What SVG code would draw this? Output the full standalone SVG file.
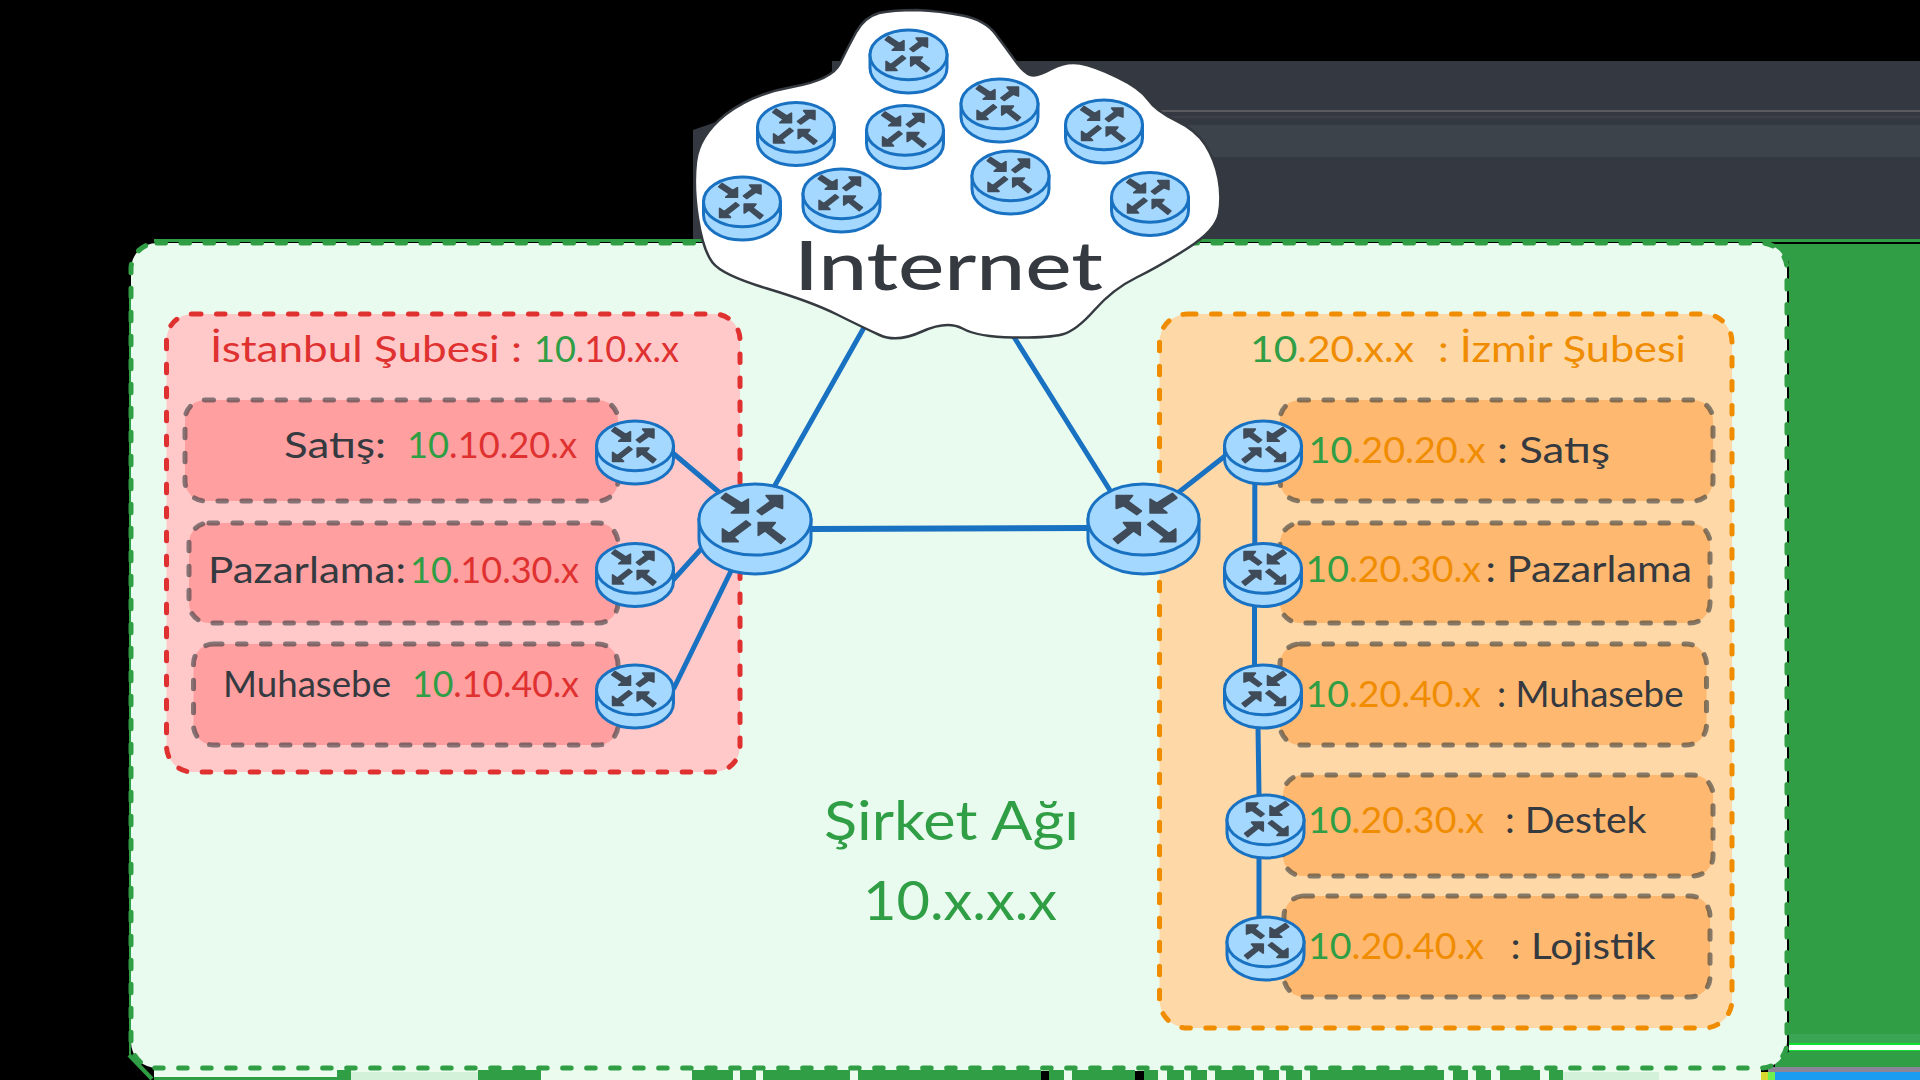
<svg xmlns="http://www.w3.org/2000/svg" width="1920" height="1080" viewBox="0 0 1920 1080">
<style>
text{font-family:"Lato","Open Sans","Noto Sans",sans-serif;font-size:36px}
.dk{fill:#343a40}.rd{fill:#e03131}.gn{fill:#2f9e44}.or{fill:#f08c00}
.box{stroke-width:5;stroke-dasharray:8.500 15.500;stroke-linecap:round}
.sub{stroke:#343a40;stroke-opacity:.6}
.subr{fill:#ff9f9f}.subo{fill:#ffb86f}
.link{stroke:#1971c2;stroke-width:5;fill:none;stroke-linecap:round}
.rb{fill:#a5d8ff;stroke:#1971c2;stroke-width:3;vector-effect:non-scaling-stroke}
.ra{fill:#3f4b58;stroke:#3f4b58;stroke-width:1.800;stroke-linejoin:round;vector-effect:non-scaling-stroke}
.big{font-size:54px}
</style>
<defs>
<g id="router">
<path class="rb" d="M-50,39.5V60.5A50,39.5 0 0 0 50,60.5V39.5Z"/>
<ellipse class="rb" cx="0" cy="39.5" rx="50" ry="39.5"/>
<polygon class="ra" points="-26,10.5 -12,21.5 -6,17 -6,32 -21,32 -16,27 -30,15.5"/>
<polygon class="ra" points="2,30 14,19 10,13 24.5,13 24.5,27 18,24 6,34"/>
<polygon class="ra" points="-8,41 -23,55 -29,50 -29,64 -15,64 -19,59 -4,45"/>
<polygon class="ra" points="27,61 14,49 18,43 3,43 3,57 9,52 23,66"/>
</g>
</defs>

<g id="background">
<rect width="1920" height="1080" fill="#000"/>
<polygon points="832,61 1920,61 1920,241 693,241 693,130 832,82" fill="#343840"/>
<rect x="832" y="125" width="1088" height="32" fill="#3c434a"/>
<rect x="832" y="110" width="1088" height="2" fill="#5a5a5f"/>
<rect x="832" y="116.500" width="1088" height="1" fill="#4a4458"/>
<polygon points="1770,244 1920,244 1920,1043 1789,1043 1789,262 1783,255" fill="#2f9e44"/>
<rect x="1789" y="1034" width="131" height="9" fill="#3aa655"/>
<rect x="1789" y="1043" width="131" height="2" fill="#10e030"/>
<rect x="1789" y="1045" width="131" height="5" fill="#fff"/>
<rect x="1789" y="1050" width="131" height="1.500" fill="#10e030"/>
<polygon points="1775,1067 1775,1060 1790,1051 1920,1051 1920,1067" fill="#2f9e44"/>
<rect x="1768" y="1067" width="152" height="5" fill="#8d8597"/>
<rect x="1775" y="1072" width="145" height="8" fill="#1c9cf0"/>
<rect x="1761" y="1072" width="7" height="8" fill="#d8d830"/>
<rect x="1768" y="1072" width="7" height="8" fill="#70f050"/>
</g>

<g id="sirket-agi">
<rect x="154" y="1068" width="1607" height="12" fill="#ebfbee"/>
<rect x="154" y="239" width="1766" height="3" fill="#2f9e44"/>
<rect x="131" y="243" width="1656" height="825" rx="26" fill="#e9faee" stroke="#2f9e44" class="box"/>
<rect x="129" y="290" width="2" height="765" fill="#2f9e44"/>
<path d="M0,1055H129L154,1080H0Z" fill="#000"/>
<path d="M129,1055L152,1079" stroke="#2f9e44" stroke-width="4" fill="none"/>
<path d="M154,1078.500H340" stroke="#2f9e44" stroke-width="3"/>
<g fill="#d3f0d8"><rect x="351" y="1072" width="127" height="8"/><rect x="1563" y="1072" width="96" height="8"/></g>
<g fill="#2f9e44">
<rect x="337" y="1070" width="14" height="10"/><rect x="478" y="1070" width="63" height="10"/><rect x="692" y="1070" width="41" height="10"/><rect x="740" y="1070" width="16" height="10"/><rect x="763" y="1070" width="87" height="10"/><rect x="858" y="1070" width="183" height="10"/><rect x="1049" y="1070" width="15" height="10"/><rect x="1072" y="1070" width="63" height="10"/><rect x="1144" y="1070" width="14" height="10"/><rect x="1167" y="1070" width="17" height="10"/><rect x="1191" y="1070" width="16" height="10"/><rect x="1215" y="1070" width="39" height="10"/><rect x="1263" y="1070" width="16" height="10"/><rect x="1286" y="1070" width="16" height="10"/><rect x="1310" y="1070" width="134" height="10"/><rect x="1453" y="1070" width="15" height="10"/><rect x="1476" y="1070" width="15" height="10"/><rect x="1500" y="1070" width="40" height="10"/><rect x="1549" y="1070" width="14" height="10"/>
</g>
<rect x="1041" y="1071" width="8" height="9" fill="#000"/><rect x="1135" y="1071" width="9" height="9" fill="#000"/>
<text class="gn big" x="824" y="840" textLength="255" lengthAdjust="spacingAndGlyphs">Şirket Ağı</text>
<text class="gn big" x="863" y="920" textLength="194" lengthAdjust="spacingAndGlyphs">10.x.x.x</text>
</g>

<g id="istanbul-subesi">
<rect x="166.500" y="314" width="573.500" height="458" rx="26" fill="#ffc9c9" stroke="#e03131" class="box"/>
<text class="rd" x="210" y="362" textLength="312" lengthAdjust="spacingAndGlyphs">İstanbul Şubesi :</text>
<text class="rd" x="534" y="362" textLength="145" lengthAdjust="spacingAndGlyphs"><tspan class="gn">10</tspan>.10.x.x</text>
</g>
<g id="izmir-subesi">
<rect x="1159.500" y="314" width="572.500" height="714" rx="28" fill="#ffd8a8" stroke="#f08c00" class="box"/>
<text class="or" x="1250" y="362" textLength="164" lengthAdjust="spacingAndGlyphs"><tspan class="gn">10</tspan>.20.x.x</text>
<text class="or" x="1438" y="362" textLength="248" lengthAdjust="spacingAndGlyphs">: İzmir Şubesi</text>
</g>

<g id="ist-satis">
<rect x="185" y="400" width="433" height="101" rx="20" class="box sub subr"/>
<text class="dk" x="284" y="458" textLength="102" lengthAdjust="spacingAndGlyphs">Satış:</text>
<text class="rd" x="407" y="458" textLength="170" lengthAdjust="spacingAndGlyphs"><tspan class="gn">10</tspan>.10.20.x</text>
</g>
<g id="ist-pazarlama">
<rect x="189" y="523" width="429" height="100" rx="20" class="box sub subr"/>
<text class="dk" x="208" y="583" textLength="198" lengthAdjust="spacingAndGlyphs">Pazarlama:</text>
<text class="rd" x="410" y="583" textLength="169" lengthAdjust="spacingAndGlyphs"><tspan class="gn">10</tspan>.10.30.x</text>
</g>
<g id="ist-muhasebe">
<rect x="193.500" y="644" width="424.500" height="101" rx="20" class="box sub subr"/>
<text class="dk" x="223" y="697" textLength="168" lengthAdjust="spacingAndGlyphs">Muhasebe</text>
<text class="rd" x="412" y="697" textLength="167" lengthAdjust="spacingAndGlyphs"><tspan class="gn">10</tspan>.10.40.x</text>
</g>

<g id="izm-satis">
<rect x="1280" y="400" width="433" height="101" rx="20" class="box sub subo"/>
<text class="or" x="1308.500" y="463" textLength="177" lengthAdjust="spacingAndGlyphs"><tspan class="gn">10</tspan>.20.20.x</text>
<text class="dk" x="1497" y="463" textLength="113" lengthAdjust="spacingAndGlyphs">: Satış</text>
</g>
<g id="izm-pazarlama">
<rect x="1280" y="523" width="430" height="100" rx="20" class="box sub subo"/>
<text class="or" x="1305.500" y="582" textLength="175.500" lengthAdjust="spacingAndGlyphs"><tspan class="gn">10</tspan>.20.30.x</text>
<text class="dk" x="1485.500" y="582" textLength="206.500" lengthAdjust="spacingAndGlyphs">: Pazarlama</text>
</g>
<g id="izm-muhasebe">
<rect x="1280" y="644" width="426.500" height="101" rx="20" class="box sub subo"/>
<text class="or" x="1305.500" y="707" textLength="175.500" lengthAdjust="spacingAndGlyphs"><tspan class="gn">10</tspan>.20.40.x</text>
<text class="dk" x="1497" y="707" textLength="186.500" lengthAdjust="spacingAndGlyphs">: Muhasebe</text>
</g>
<g id="izm-destek">
<rect x="1283" y="775" width="430" height="101" rx="20" class="box sub subo"/>
<text class="or" x="1308" y="833" textLength="176" lengthAdjust="spacingAndGlyphs"><tspan class="gn">10</tspan>.20.30.x</text>
<text class="dk" x="1505" y="833" textLength="141.500" lengthAdjust="spacingAndGlyphs">: Destek</text>
</g>
<g id="izm-lojistik">
<rect x="1284" y="896" width="426" height="101" rx="20" class="box sub subo"/>
<text class="or" x="1308" y="959" textLength="176" lengthAdjust="spacingAndGlyphs"><tspan class="gn">10</tspan>.20.40.x</text>
<text class="dk" x="1510.500" y="959" textLength="145" lengthAdjust="spacingAndGlyphs">: Lojistik</text>
</g>

<g id="connectors">
<line class="link" x1="674" y1="454" x2="720" y2="493"/>
<line class="link" x1="674" y1="579" x2="702" y2="548"/>
<line class="link" x1="674" y1="688" x2="731" y2="571"/>
<line class="link" x1="774" y1="487" x2="866" y2="324"/>
<line class="link" x1="809" y1="529" x2="1088" y2="528" style="stroke-width:6"/>
<line class="link" x1="1111" y1="492" x2="1014" y2="337"/>
<line class="link" x1="1179" y1="492" x2="1225" y2="456"/>
<line class="link" x1="1254.800" y1="483" x2="1254.800" y2="543"/>
<line class="link" x1="1254.500" y1="605" x2="1254.500" y2="665"/>
<line class="link" x1="1258" y1="727" x2="1259" y2="795"/>
<line class="link" x1="1259" y1="857" x2="1259" y2="917"/>
</g>

<g id="router-ist-satis"><use href="#router" transform="translate(635,421) scale(.77,.63)"/></g>
<g id="router-ist-pazarlama"><use href="#router" transform="translate(635,543.500) scale(.77,.63)"/></g>
<g id="router-ist-muhasebe"><use href="#router" transform="translate(635,665) scale(.77,.63)"/></g>
<g id="router-istanbul"><use href="#router" transform="translate(755,484) scale(1.12,.9)"/></g>
<g id="router-izmir"><use href="#router" transform="translate(1143.500,484) scale(-1.11,.9)"/></g>
<g id="router-izm-satis"><use href="#router" transform="translate(1263,421) scale(-.77,.63)"/></g>
<g id="router-izm-pazarlama"><use href="#router" transform="translate(1263,543.500) scale(-.77,.63)"/></g>
<g id="router-izm-muhasebe"><use href="#router" transform="translate(1263,665) scale(-.77,.63)"/></g>
<g id="router-izm-destek"><use href="#router" transform="translate(1265.500,795) scale(-.77,.63)"/></g>
<g id="router-izm-lojistik"><use href="#router" transform="translate(1265.500,917) scale(-.77,.63)"/></g>

<g id="internet">
<path fill="#fff" stroke="#343a40" stroke-width="2.500" stroke-linejoin="round" d="M879,13Q893,10 916.500,10Q940,11 962.500,15.500Q985,20 995.500,34Q1006,48 1015,60.500Q1024,73 1030.500,75Q1037,77 1051.500,69Q1066,61 1080,63.500Q1094,66 1117,77Q1140,88 1148,99.500Q1156,111 1176,120.500Q1196,130 1205.500,145Q1215,160 1218.500,178.500Q1222,197 1219,213.500Q1216,230 1188,248Q1160,266 1136.500,277.500Q1113,289 1094.500,310Q1076,331 1062,334.500Q1048,338 1013,337.500Q978,337 962.500,328.500Q947,320 922,331.500Q897,343 879.500,335Q862,327 837,314.500Q812,302 767,288.500Q722,275 712.500,262.500Q703,250 698,218.500Q693,187 696,161.500Q699,136 725,115Q752,94 792,87Q832,80 840,63.500Q848,47 856.500,31.500Q865,17 879,13Z"/>
<text class="dk" x="794" y="290" style="font-size:68px;font-weight:500" textLength="309" lengthAdjust="spacingAndGlyphs">Internet</text>
<g id="cloud-router-1"><use href="#router" transform="translate(908.500,30) scale(.77,.63)"/></g>
<g id="cloud-router-2"><use href="#router" transform="translate(999.500,79) scale(.77,.63)"/></g>
<g id="cloud-router-3"><use href="#router" transform="translate(1104,100) scale(.77,.63)"/></g>
<g id="cloud-router-4"><use href="#router" transform="translate(796,102.500) scale(.77,.63)"/></g>
<g id="cloud-router-5"><use href="#router" transform="translate(905,105.500) scale(.77,.63)"/></g>
<g id="cloud-router-6"><use href="#router" transform="translate(1010.500,151) scale(.77,.63)"/></g>
<g id="cloud-router-7"><use href="#router" transform="translate(1150,172.500) scale(.77,.63)"/></g>
<g id="cloud-router-8"><use href="#router" transform="translate(841.500,169) scale(.77,.63)"/></g>
<g id="cloud-router-9"><use href="#router" transform="translate(742,177) scale(.77,.63)"/></g>
</g>
</svg>
